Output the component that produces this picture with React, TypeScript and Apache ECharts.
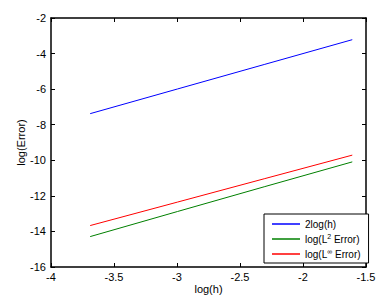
import React, { useEffect, useRef } from "react";
import * as echarts from "echarts";

const logH = [-3.689, -2.996, -2.303, -1.609];
const blueVals = [-7.378, -5.991, -4.605, -3.219];
const greenVals = [-14.29, -12.88, -11.48, -10.09];
const redVals = [-13.67, -12.35, -11.03, -9.71];
const seriesNames = ["2log(h)", "log(L2 Error)", "log(L\u221e Error)"];
const seriesColors = ["#0000ff", "#008000", "#ff0000"];
const xTitle = "log(h)";
const yTitle = "log(Error)";

const FONT = "Liberation Sans, Arial, Helvetica, sans-serif";

export default function App() {
  const ref = useRef<HTMLDivElement>(null);
  useEffect(() => {
    if (!ref.current) return;
    const chart = echarts.init(ref.current, undefined, { renderer: "svg" });
    const allVals = [blueVals, greenVals, redVals];
    const axisLine = { show: true, lineStyle: { color: "#000", width: 1.5 } };
    const tick = { show: true, inside: true, length: 4, lineStyle: { color: "#000", width: 1 } };
    chart.setOption({
      animation: false,
      backgroundColor: "#fff",
      grid: { left: 51, right: 21, top: 18, bottom: 35 },
      xAxis: [
        {
          type: "value",
          min: -4,
          max: -1.5,
          interval: 0.5,
          position: "bottom",
          axisLine,
          axisTick: tick,
          splitLine: { show: false },
          axisLabel: { color: "#000", fontSize: 11, fontFamily: FONT, margin: 4 },
          name: xTitle,
          nameLocation: "middle",
          nameGap: 16,
          nameMoveOverlap: false,
          nameTextStyle: { color: "#000", fontSize: 11, fontFamily: FONT },
        },
        {
          type: "value",
          min: -4,
          max: -1.5,
          interval: 0.5,
          position: "top",
          axisLine,
          axisTick: tick,
          splitLine: { show: false },
          axisLabel: { show: false },
        },
      ],
      yAxis: [
        {
          type: "value",
          min: -16,
          max: -2,
          interval: 2,
          position: "left",
          axisLine,
          axisTick: tick,
          splitLine: { show: false },
          axisLabel: { color: "#000", fontSize: 11, fontFamily: FONT, margin: 5 },
          name: yTitle,
          nameLocation: "middle",
          nameGap: 25,
          nameMoveOverlap: false,
          nameRotate: 90,
          nameTextStyle: { color: "#000", fontSize: 11, fontFamily: FONT },
        },
        {
          type: "value",
          min: -16,
          max: -2,
          interval: 2,
          position: "right",
          axisLine,
          axisTick: tick,
          splitLine: { show: false },
          axisLabel: { show: false },
        },
      ],
      legend: {
        orient: "vertical",
        left: 264,
        top: 214,
        width: 98,
        padding: [4, 8, 3, 8],
        itemGap: 3,
        itemWidth: 28,
        itemHeight: 1.5,
        icon: "rect",
        backgroundColor: "#fff",
        borderColor: "#000",
        borderWidth: 1,
        borderRadius: 0,
        data: seriesNames,
        formatter: (name: string) => {
          if (name === seriesNames[1]) return "log(L{sup|2} Error)";
          if (name === seriesNames[2]) return "log(L{sup|\u221e} Error)";
          return name;
        },
        textStyle: {
          color: "#000",
          fontSize: 10,
          fontFamily: FONT,
          lineHeight: 12,
          rich: {
            sup: { fontSize: 7, fontFamily: FONT, color: "#000", verticalAlign: "top", lineHeight: 12, padding: [0, 0, 4, 0] },
          },
        },
      },
      series: seriesNames.map((n, i) => ({
        name: n,
        type: "line",
        symbol: "none",
        color: seriesColors[i],
        lineStyle: { color: seriesColors[i], width: 1 },
        data: logH.map((x, j) => [x, allVals[i][j]]),
      })),
    });
    return () => chart.dispose();
  }, []);
  return (
    <div
      ref={ref}
      style={{ position: "fixed", left: 0, top: 0, width: 387, height: 302, background: "#fff" }}
    />
  );
}
